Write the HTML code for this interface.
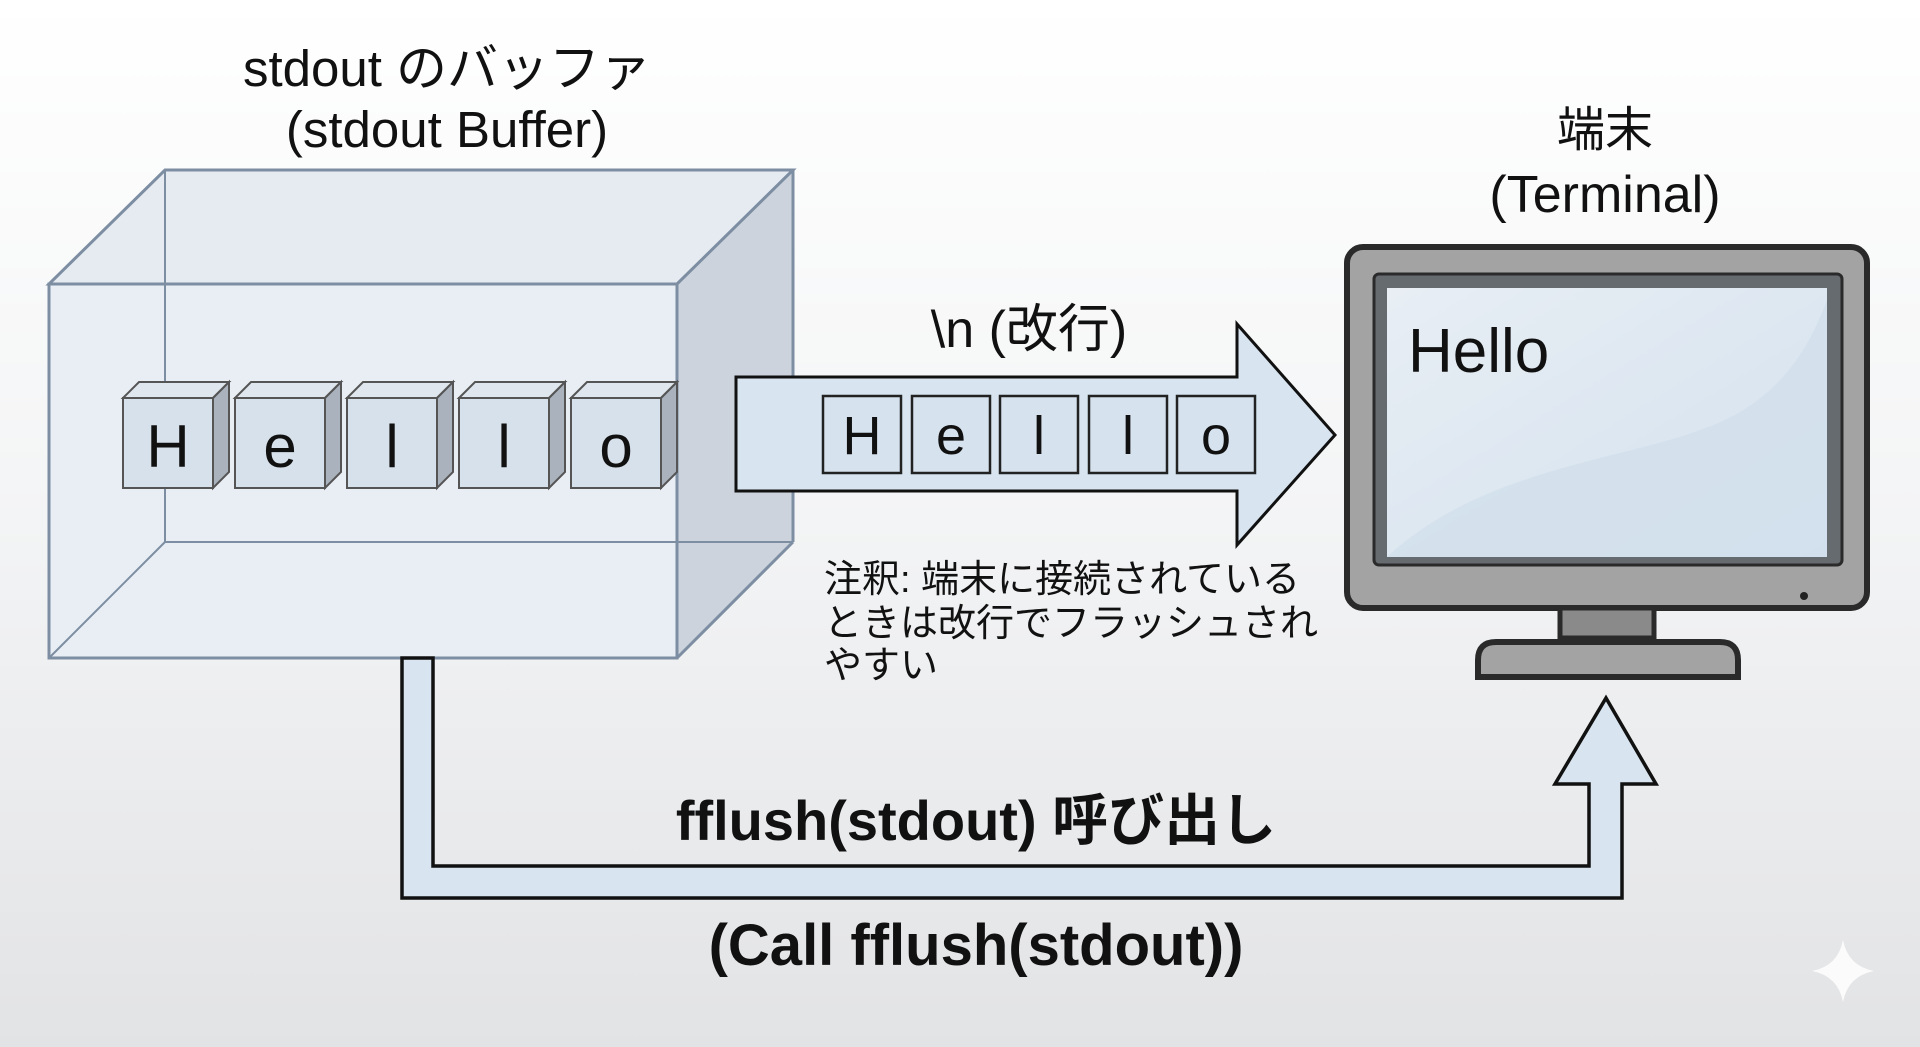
<!DOCTYPE html>
<html><head><meta charset="utf-8"><style>
html,body{margin:0;padding:0;width:1920px;height:1047px;overflow:hidden}
svg{display:block}
text{font-family:"Liberation Sans","Noto Sans CJK JP",sans-serif;fill:#111}
</style></head><body>
<svg width="1920" height="1047" viewBox="0 0 1920 1047" xmlns="http://www.w3.org/2000/svg">
<defs>
<linearGradient id="bg" x1="0" y1="0" x2="0" y2="1">
<stop offset="0" stop-color="#ffffff"/><stop offset="0.5" stop-color="#f3f4f5"/><stop offset="1" stop-color="#e2e3e5"/></linearGradient>
<linearGradient id="scr" x1="0" y1="0" x2="1" y2="1">
<stop offset="0" stop-color="#e8eef4"/><stop offset="1" stop-color="#d3e1ee"/></linearGradient>
</defs>
<rect width="1920" height="1047" fill="url(#bg)"/>

<!-- titles -->
<text x="447" y="86" font-size="51" text-anchor="middle">stdout のバッファ</text>
<text x="447" y="147" font-size="51" text-anchor="middle">(stdout Buffer)</text>
<text x="1605" y="146" font-size="48" text-anchor="middle">端末</text>
<text x="1605" y="212" font-size="52" text-anchor="middle">(Terminal)</text>

<!-- buffer box -->
<g stroke="#7d8ea3" stroke-width="3" fill="none">
<polygon points="165,170 793,170 793,542 677,658 49,658 49,284" fill="#e9eef4" stroke="none"/>
<polygon points="677,284 793,170 793,542 677,658" fill="#cdd3dc" stroke="none"/>
<polygon points="49,284 165,170 793,170 677,284" fill="#e6ebf2" stroke="none"/>
<line x1="165" y1="170" x2="165" y2="542" stroke-width="2"/>
<line x1="165" y1="542" x2="793" y2="542" stroke-width="2"/>
<line x1="165" y1="542" x2="49" y2="658" stroke-width="2"/>
<polygon points="165,170 793,170 677,284 49,284"/>
<line x1="793" y1="170" x2="793" y2="542"/>
<line x1="793" y1="542" x2="677" y2="658"/>
<rect x="49" y="284" width="628" height="374"/>
</g>

<!-- cubes -->
<g stroke="#555" stroke-width="2">
<g id="c"><polygon points="123,398 139,382 229,382 213,398" fill="#dfe6ee"/><polygon points="213,398 229,382 229,472 213,488" fill="#a9b2bd"/><rect x="123" y="398" width="90" height="90" fill="#d7e1eb"/></g>
<use href="#c" x="112"/><use href="#c" x="224"/><use href="#c" x="336"/><use href="#c" x="448"/>
</g>
<g font-size="60" text-anchor="middle">
<text x="168" y="467">H</text><text x="280" y="467">e</text><text x="392" y="467">l</text><text x="504" y="467">l</text><text x="616" y="467">o</text>
</g>

<!-- right arrow -->
<polygon points="736,377 1237,377 1237,324 1335,435 1237,545 1237,491 736,491" fill="#d8e4f0" stroke="#111" stroke-width="3"/>
<g fill="#d6e2ee" stroke="#222" stroke-width="2.5">
<rect x="823" y="396" width="78" height="77"/><rect x="912" y="396" width="78" height="77"/><rect x="1000" y="396" width="78" height="77"/><rect x="1089" y="396" width="78" height="77"/><rect x="1177" y="396" width="78" height="77"/>
</g>
<g font-size="54" text-anchor="middle">
<text x="862" y="454">H</text><text x="951" y="454">e</text><text x="1039" y="454">l</text><text x="1128" y="454">l</text><text x="1216" y="454">o</text>
</g>
<text x="1029" y="347" font-size="52" text-anchor="middle">\n (改行)</text>
<g font-size="38" fill="#222"><text x="824" y="592">注釈: 端末に接続されている</text><text x="824" y="636">ときは改行でフラッシュされ</text><text x="824" y="678">やすい</text></g>

<!-- terminal -->
<rect x="1347" y="247" width="520" height="361" rx="16" fill="#a3a3a3" stroke="#2a2a2a" stroke-width="6"/>
<rect x="1374" y="274" width="468" height="291" rx="5" fill="#666b70" stroke="#2a2a2a" stroke-width="3"/>
<rect x="1387" y="288" width="440" height="269" fill="url(#scr)"/>
<path d="M1387,557 C1480,470 1620,460 1700,430 C1790,400 1815,330 1827,300 L1827,557 Z" fill="#d2e0ec" opacity="0.8"/>
<text x="1408" y="372" font-size="62">Hello</text>
<circle cx="1804" cy="596" r="4" fill="#222"/>
<rect x="1560" y="608" width="94" height="30" fill="#8a8a8a" stroke="#2a2a2a" stroke-width="5"/>
<path d="M1478,677 L1478,660 Q1478,642 1496,642 L1720,642 Q1738,642 1738,660 L1738,677 Z" fill="#a3a3a3" stroke="#2a2a2a" stroke-width="6"/>

<!-- L arrow -->
<polygon points="402,658 433,658 433,866 1589,866 1589,784 1555,784 1606,698 1656,784 1622,784 1622,898 402,898" fill="#d8e4f0" stroke="#111" stroke-width="3.5"/>
<text x="976" y="840" font-size="56" font-weight="bold" text-anchor="middle">fflush(stdout) 呼び出し</text>
<text x="976" y="965" font-size="58" font-weight="bold" text-anchor="middle">(Call fflush(stdout))</text>

<!-- sparkle -->
<path d="M1843,940 Q1848,966 1874,971 Q1848,976 1843,1002 Q1838,976 1812,971 Q1838,966 1843,940 Z" fill="#fbfbfb"/>
</svg>
</body></html>
